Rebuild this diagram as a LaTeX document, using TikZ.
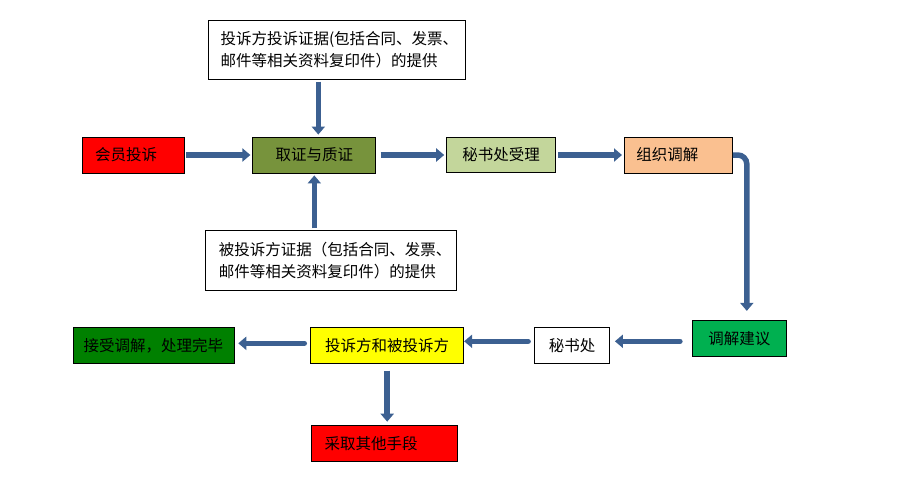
\documentclass[tikz,border=0pt]{standalone}
\usepackage{fontspec}
\newfontfamily\cjk{Noto Sans CJK SC}
\usetikzlibrary{positioning, arrows.meta}
\definecolor{arrowblue}{RGB}{60,96,145}
\definecolor{boxred}{RGB}{255,0,0}
\definecolor{boxolive}{RGB}{119,147,60}
\definecolor{boxlime}{RGB}{195,214,155}
\definecolor{boxpeach}{RGB}{250,192,144}
\definecolor{boxgreen}{RGB}{0,176,80}
\definecolor{boxdark}{RGB}{0,128,0}
\definecolor{boxyellow}{RGB}{255,255,0}
\tikzset{
	box/.style={draw, line width=.8pt, inner sep=0pt, minimum height=36pt, font=\cjk\fontsize{15.5}{22}\selectfont},
	leftbox/.style={box, align=left, inner xsep=13pt},
	flow/.style={draw=arrowblue, line width=5.5pt, -{Triangle[length=8pt, width=13pt]}, shorten <=2pt, shorten >=2pt},
	flowr/.style={flow, line cap=round}
}
\begin{document}
\begin{tikzpicture}[x=1pt, y=-1pt]
	\useasboundingbox (0,0) rectangle (907,482);
	\node[leftbox, fill=boxred, text width=76pt] (complain) at (133,155) {会员投诉};
	\node[box, fill=boxolive, minimum width=123pt, right=68pt of complain] (evid) {取证与质证};
	\node[box, fill=boxlime, minimum width=109pt, minimum height=35pt, right=70pt of evid] (accept) {秘书处受理};
	\node[leftbox, fill=boxpeach, text width=84pt, inner xsep=12pt, right=68pt of accept] (mediate) {组织调解};
	\node[leftbox, text width=233pt, inner xsep=12pt, minimum height=59pt, above=57pt of evid, xshift=22.7pt] (proofA) {投诉方投诉证据(包括合同、发票、\\邮件等相关资料复印件）的提供};
	\node[leftbox, text width=225pt, inner xsep=13pt, minimum height=60pt, below=57pt of evid, xshift=17pt] (proofB) {被投诉方证据（包括合同、发票、\\邮件等相关资料复印件）的提供};
	\node[box, fill=boxgreen, minimum width=94pt] (advice) at (739.3,338.3) {调解建议};
	\node[box, minimum width=75pt, left=82pt of advice, yshift=-7pt] (office) {秘书处};
	\node[box, fill=boxyellow, minimum width=153pt, left=70pt of office] (parties) {投诉方和被投诉方};
	\node[box, fill=boxdark, minimum width=161pt, left=76pt of parties] (done) {接受调解，处理完毕};
	\node[leftbox, fill=boxred, text width=120pt, below=61pt of parties, xshift=-2.5pt] (other) {采取其他手段};
	\coordinate (evidtop) at ([xshift=4pt]evid.north);
	\draw[flow] (complain) -- (evid);
	\draw[flow, shorten <=4.5pt] (evid) -- (accept);
	\draw[flow] (accept) -- (mediate);
	\draw[flow] (proofA.south -| evidtop) -- (evidtop);
	\draw[flow] (proofB.north -| evid.south) -- (evid.south);
	\draw[flow, rounded corners=9pt, shorten <=0pt, shorten >=9pt] (mediate.east) -| ([xshift=7.5pt]advice.north);
	\draw[flowr, shorten <=12pt, shorten >=5pt] ([yshift=-3pt]advice.west) -- ([yshift=4pt]office.east);
	\draw[flowr, shorten <=6pt, shorten >=0pt] ([yshift=4pt]office.west) -- ([yshift=4pt]parties.east);
	\draw[flowr, shorten <=6pt, shorten >=4pt] ([yshift=2pt]parties.west) -- ([yshift=2pt]done.east);
	\draw[flow, shorten <=7pt, shorten >=3pt] (parties.south) -- (parties.south |- other.north);
\end{tikzpicture}
\end{document}
